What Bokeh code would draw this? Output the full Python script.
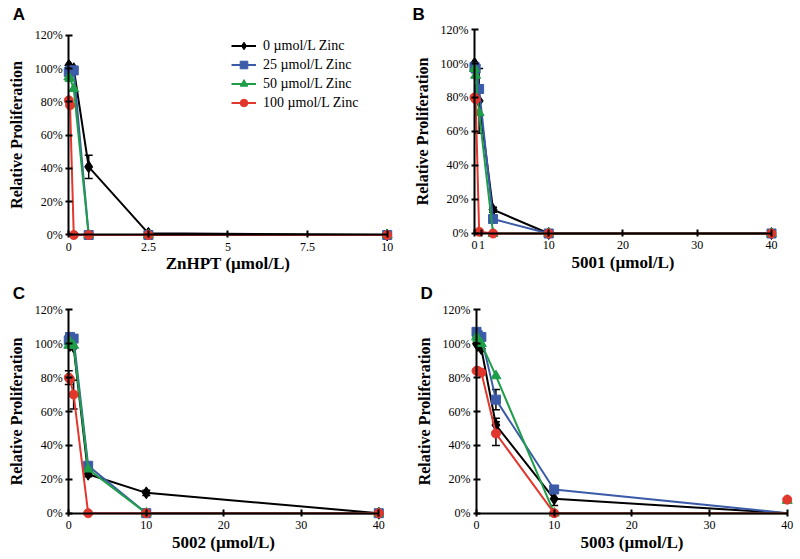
import math
from bokeh.plotting import figure
from bokeh.layouts import column, row
from bokeh.models import (Range1d, FixedTicker, PrintfTickFormatter, Label, Legend,
                          LegendItem, Whisker, ColumnDataSource, TeeHead)
from bokeh.embed import file_html
from bokeh.resources import INLINE

NAN = float("nan")
SERIF = "Liberation Serif"
SANS = "Liberation Sans"

series_names = ["0 µmol/L Zinc", "25 µmol/L Zinc", "50 µmol/L Zinc", "100 µmol/L Zinc"]
series_colors = ["#000000", "#3b5ba8", "#1f9e4a", "#e2372d"]
series_markers = ["diamond", "square", "triangle", "circle"]
series_sizes = [12, 9, 10, 9]

y_ticks = [0, 20, 40, 60, 80, 100, 120]
y_title = "Relative Proliferation"

# ---- Panel A: ZnHPT ----
a_x = [0, 0.039, 0.156, 0.625, 2.5, 10]
a_black = [102, 101, 100, 41, 1, 0]
a_blue = [98, 99, 99, 0, 0, 0]
a_green = [95, 94, 88, 0, 0, 0]
a_red = [81, 78, 0, 0, 0, 0]
a_black_err = [0, 0, 0, 7, 0, 0]
a_blue_err = [0, 0, 0, 0, 0, 0]
a_green_err = [0, 0, 0, 0, 0, 0]
a_red_err = [0, 0, 0, 0, 0, 0]
a_xticks = [0, 2.5, 5, 7.5, 10]
a_xlabels = ["0", "2.5", "5", "7.5", "10"]

# ---- Panel B: 5001 ----
b_x = [0, 0.156, 0.625, 2.5, 10, 40]
b_black = [100, 99, 78, 14, 0, 0]
b_blue = [98, 97, 85, 8.5, 0, 0]
b_green = [97, 93, 71, 0, 0, 0]
b_red = [80, 79, 1, 0, 0, 0]
b_black_err = [0, 0, 19, 1.5, 0, 0]
b_blue_err = [0, 0, 0, 0, 0, 0]
b_green_err = [0, 0, 0, 0, 0, 0]
b_red_err = [0, 0, 0, 0, 0, 0]
b_xticks = [0, 1, 10, 20, 30, 40]
b_xlabels = ["0", "1", "10", "20", "30", "40"]

# ---- Panel C: 5002 ----
c_x = [0, 0.156, 0.625, 2.5, 10, 40]
c_black = [100, 99, 98, 23, 12, 0]
c_blue = [102, 104, 103, 28, 0, 0]
c_green = [99, 101, 99, 26, 0, 0]
c_red = [80, 79, 70, 0, 0, 0]
c_black_err = [0, 0, 0, 1.5, 1.5, 0]
c_blue_err = [0, 0, 0, 0, 0, 0]
c_green_err = [0, 0, 0, 0, 0, 0]
c_red_err = [4, 0, 8.5, 0, 0, 0]
c_xticks = [0, 10, 20, 30, 40]
c_xlabels = ["0", "10", "20", "30", "40"]

# ---- Panel D: 5003 ----
d_x = [0, 0.156, 0.625, 2.5, 10, 40]
d_black = [100, 99, 97, 52, 8.5, 0]
d_blue = [107, 105, 104, 67, 14, 0]
d_green = [104, 103, 100, 81, 0, 0]
d_red = [84, 84, 83, 47, 0, 0]
d_black_pts = [100, 99, 97, 52, 8.5, NAN]
d_blue_pts = [107, 105, 104, 67, 14, NAN]
d_green_pts = [104, 103, 100, 81, 0, 7.5]
d_red_pts = [84, 84, 83, 47, 0, 8]
d_black_err = [0, 0, 0, 4, 4, 0]
d_blue_err = [0, 0, 0, 6, 0, 0]
d_green_err = [0, 0, 0, 0, 0, 0]
d_red_err = [0, 0, 0, 7, 0, 0]
d_xticks = [0, 10, 20, 30, 40]
d_xlabels = ["0", "10", "20", "30", "40"]


def panel(letter, xs, ys, pts, errs, xtitle, xticks, xlabels, xmax,
          w, h, x_rng, y_rng, lt, legend_loc=None):
    p = figure(width=w, height=h, output_backend="svg", toolbar_location=None,
               x_range=Range1d(*x_rng), y_range=Range1d(*y_rng),
               min_border_left=0, min_border_right=0,
               min_border_top=0, min_border_bottom=0)
    p.outline_line_color = None
    p.xgrid.visible = False
    p.ygrid.visible = False
    for ax in (p.xaxis[0], p.yaxis[0]):
        ax.fixed_location = 0
        ax.axis_line_width = 2
        ax.axis_line_color = "black"
        ax.major_tick_line_width = 2
        ax.major_tick_line_color = "black"
        ax.major_tick_in = 4
        ax.major_tick_out = 3
        ax.minor_tick_line_color = None
        ax.major_label_text_font = SERIF
        ax.major_label_text_font_size = "12px"
        ax.major_label_text_color = "black"
        ax.axis_label_text_font = SERIF
        ax.axis_label_text_font_style = "bold"
        ax.axis_label_text_color = "black"
    p.xaxis.bounds = (0, xmax)
    p.yaxis.bounds = (0, 120)
    p.xaxis.ticker = FixedTicker(ticks=xticks)
    p.xaxis.major_label_overrides = {t: l for t, l in zip(xticks, xlabels)}
    p.yaxis.ticker = FixedTicker(ticks=y_ticks)
    p.yaxis.formatter = PrintfTickFormatter(format="%d%%")
    p.xaxis.major_label_standoff = 5
    p.yaxis.major_label_standoff = 3
    p.xaxis.axis_label = xtitle
    p.xaxis.axis_label_text_font_size = "17px"
    p.xaxis.axis_label_standoff = 0
    p.yaxis.axis_label = y_title
    p.yaxis.axis_label_text_font_size = "16px"
    p.yaxis.axis_label_standoff = 7

    # error bars
    for k in range(4):
        ex, up, lo = [], [], []
        for x, y, e in zip(xs, ys[k], errs[k]):
            if e > 0:
                ex.append(x)
                up.append(y + e)
                lo.append(y - e)
        if ex:
            src = ColumnDataSource(dict(x=ex, upper=up, lower=lo))
            p.add_layout(Whisker(source=src, base="x", upper="upper", lower="lower",
                                 line_color="black", line_width=1.5,
                                 upper_head=TeeHead(size=8, line_color="black", line_width=1.5),
                                 lower_head=TeeHead(size=8, line_color="black", line_width=1.5)))

    items = []
    for k in range(4):
        rl = p.line(xs, ys[k], line_color=series_colors[k], line_width=2)
        rs = p.scatter(xs, pts[k], marker=series_markers[k], size=series_sizes[k],
                       fill_color=series_colors[k], line_color=series_colors[k])
        items.append(LegendItem(label=series_names[k], renderers=[rl, rs]))

    if legend_loc is not None:
        lg = Legend(items=items, location=legend_loc)
        lg.label_text_font = SERIF
        lg.label_text_font_size = "14px"
        lg.label_text_color = "black"
        lg.glyph_width = 25
        lg.glyph_height = 19
        lg.label_height = 19
        lg.spacing = 0
        lg.padding = 2
        lg.margin = 0
        lg.label_standoff = 7
        lg.border_line_color = None
        lg.background_fill_alpha = 0
        p.add_layout(lg)

    p.add_layout(Label(x=0, y=120, x_offset=lt[0], y_offset=lt[1], text=letter,
                       text_font=SANS, text_font_style="bold", text_font_size="17px",
                       text_color="black", text_align="left", text_baseline="middle"))
    return p


pA = panel("A", a_x, [a_black, a_blue, a_green, a_red], [a_black, a_blue, a_green, a_red],
           [a_black_err, a_blue_err, a_green_err, a_red_err],
           "ZnHPT (µmol/L)", a_xticks, a_xlabels, 10,
           400, 280, (-2.145, 10.418), (-27.37, 141.05), (-56, 21), legend_loc=(231, 168))

pB = panel("B", b_x, [b_black, b_blue, b_green, b_red], [b_black, b_blue, b_green, b_red],
           [b_black_err, b_blue_err, b_green_err, b_red_err],
           "5001 (µmol/L)", b_xticks, b_xlabels, 40,
           400, 280, (-9.966, 43.906), (-27.65, 137.06), (-62, 15))

pC = panel("C", c_x, [c_black, c_blue, c_green, c_red], [c_black, c_blue, c_green, c_red],
           [c_black_err, c_blue_err, c_green_err, c_red_err],
           "5002 (µmol/L)", c_xticks, c_xlabels, 40,
           400, 279, (-8.81, 42.80), (-27.32, 137.29), (-56, 16.8))

pD = panel("D", d_x, [d_black, d_blue, d_green, d_red], [d_black_pts, d_blue_pts, d_green_pts, d_red_pts],
           [d_black_err, d_blue_err, d_green_err, d_red_err],
           "5003 (µmol/L)", d_xticks, d_xlabels, 40,
           400, 279, (-9.785, 41.71), (-27.32, 137.29), (-56, 16.8))

layout = column(row(pA, pB), row(pC, pD))
open("out.html", "w").write(file_html(layout, INLINE))
